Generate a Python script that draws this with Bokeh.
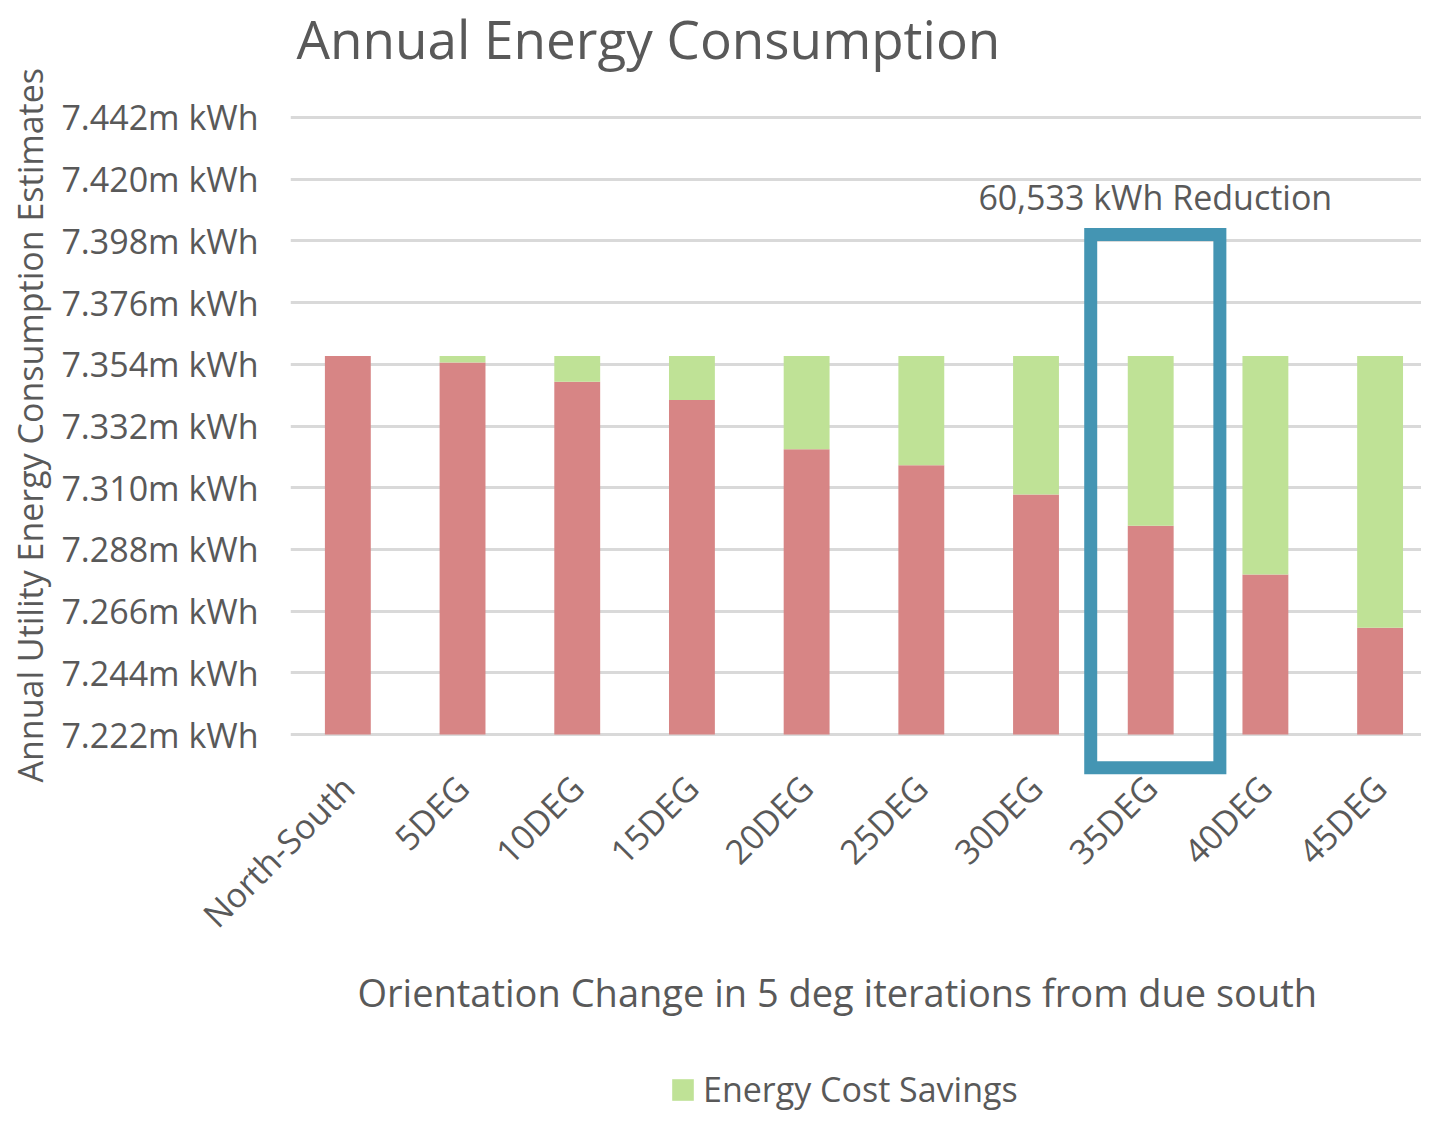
from math import pi
from bokeh.plotting import figure
from bokeh.layouts import column
from bokeh.models import (ColumnDataSource, Range1d, FixedTicker, Label, Title,
                          BoxAnnotation, Legend, LegendItem)
from bokeh.embed import file_html
from bokeh.resources import INLINE

# ---------------- data ----------------
categories = ["North-South", "5DEG", "10DEG", "15DEG", "20DEG",
              "25DEG", "30DEG", "35DEG", "40DEG", "45DEG"]
consumption_kwh = [7357000, 7354600, 7347800, 7341300, 7323700,
                   7318000, 7307600, 7296467, 7279100, 7260100]
savings_kwh = [0, 2400, 9200, 15700, 33300,
               39000, 49400, 60533, 77900, 96900]
y_ticks = [7222000, 7244000, 7266000, 7288000, 7310000, 7332000,
           7354000, 7376000, 7398000, 7420000, 7442000]
y_tick_labels = ["7.222m kWh", "7.244m kWh", "7.266m kWh", "7.288m kWh",
                 "7.310m kWh", "7.332m kWh", "7.354m kWh", "7.376m kWh",
                 "7.398m kWh", "7.420m kWh", "7.442m kWh"]
title_text = "Annual Energy Consumption"
x_title = "Orientation Change in 5 deg iterations from due south"
y_title = "Annual Utility Energy Consumption Estimates"
series_name = "Energy Cost Savings"
highlight_category = "35DEG"
highlight_text = "60,533 kWh Reduction"

# ---------------- style ----------------
FONT = "Open Sans"
TEXT = "#595959"
RED = "#D78585"
GREEN = "#BFE296"
BLUE = "#4495B3"
GRID = "#D9D9D9"

W = 1421
H_MAIN = 960
H_FOOT = 154

n = len(categories)
xs = [i + 0.5 for i in range(n)]          # category slots on the x scale
y_min = y_ticks[0]
src = ColumnDataSource(dict(
    x=xs,
    cat=categories,
    base=[y_min] * n,
    cons=consumption_kwh,
    total=[c + s for c, s in zip(consumption_kwh, savings_kwh)],
))

# main chart: frame spans 0..775 px vertically (7.442m at 117 px, 7.222m at 734 px)
x_range = Range1d(0, 9.861)
p = figure(x_range=x_range, y_range=Range1d(7207400, 7483700),
           width=W, height=H_MAIN, output_backend="svg", toolbar_location=None,
           min_border_left=290, min_border_right=0, min_border_top=0,
           min_border_bottom=H_MAIN - 775)
p.outline_line_color = None
p.background_fill_color = "white"
p.border_fill_color = "white"

red = p.vbar(x="x", bottom="base", top="cons", width=0.4, source=src,
             fill_color=RED, line_color=None)
green = p.vbar(x="x", bottom="cons", top="total", width=0.4, source=src,
               fill_color=GREEN, line_color=None)

# grid
p.xgrid.grid_line_color = None
p.ygrid.grid_line_color = GRID
p.ygrid.grid_line_width = 3

# y axis
yax = p.yaxis[0]
yax.ticker = FixedTicker(ticks=y_ticks)
yax.major_label_overrides = {t: l for t, l in zip(y_ticks, y_tick_labels)}
yax.axis_line_color = None
yax.major_tick_line_color = None
yax.minor_tick_line_color = None
yax.major_tick_out = 0
yax.major_tick_in = 0
yax.major_label_standoff = 32
yax.major_label_text_font = FONT
yax.major_label_text_font_size = "34px"
yax.major_label_text_color = TEXT

# y axis title, starting just below the frame bottom and reading upwards
p.add_layout(Title(text=y_title, align="left", offset=-7, standoff=10,
                   vertical_align="middle", text_font=FONT, text_font_size="34px",
                   text_font_style="normal", text_color=TEXT), "left")

# x axis (categories)
xax = p.xaxis[0]
xax.ticker = FixedTicker(ticks=xs)
xax.major_label_overrides = {x: c for x, c in zip(xs, categories)}
xax.axis_line_color = None
xax.major_tick_line_color = None
xax.minor_tick_line_color = None
xax.major_tick_out = 0
xax.major_tick_in = 0
xax.major_label_orientation = pi / 4
xax.major_label_standoff = 6
xax.major_label_text_font = FONT
xax.major_label_text_font_size = "34px"
xax.major_label_text_color = TEXT

# chart title (inside the tall frame, above the gridlines)
p.add_layout(Label(x=6, y=737, x_units="screen", y_units="screen", text=title_text,
                   text_font=FONT, text_font_size="53px", text_color=TEXT,
                   text_baseline="middle", text_align="left"))

# highlight box and its label
hi = categories.index(highlight_category)
p.add_layout(BoxAnnotation(left=hi - 0.023, right=hi + 1.103,
                           top=7400300, bottom=7210200,
                           fill_alpha=0, fill_color=None, line_join="miter",
                           line_color=BLUE, line_alpha=1, line_width=13))
p.add_layout(Label(x=hi + 0.54, y=579, x_units="data", y_units="screen",
                   text=highlight_text, text_font=FONT, text_font_size="34px",
                   text_color=TEXT, text_baseline="middle", text_align="center"))

# footer strip: x axis title and legend (shares the x scale of the chart)
f = figure(x_range=x_range, y_range=Range1d(0, H_FOOT), width=W, height=H_FOOT,
           output_backend="svg", toolbar_location=None, x_axis_type=None,
           y_axis_type=None, min_border=0)
f.outline_line_color = None
f.xgrid.visible = False
f.ygrid.visible = False
f.add_layout(Label(x=67, y=123, x_units="screen", y_units="screen", text=x_title,
                   text_font=FONT, text_font_size="38px", text_color=TEXT,
                   text_baseline="middle", text_align="left"))
# same savings series on a scale that keeps it out of this strip; supplies the swatch
f.extra_y_ranges = {"swatch": Range1d(7400000, 7500000)}
swatch = f.vbar(x="x", bottom="cons", top="total", width=0.4, source=src,
                fill_color=GREEN, line_color=None, y_range_name="swatch")
legend = Legend(items=[LegendItem(label=series_name, renderers=[swatch])],
                location=(379, 2), orientation="horizontal",
                glyph_width=27, glyph_height=27, label_standoff=7,
                label_text_font=FONT, label_text_font_size="34px",
                label_text_color=TEXT, padding=0, margin=0, spacing=0,
                border_line_color=None, background_fill_alpha=0)
f.add_layout(legend)

open("out.html", "w").write(file_html(column(p, f, spacing=0), INLINE))
